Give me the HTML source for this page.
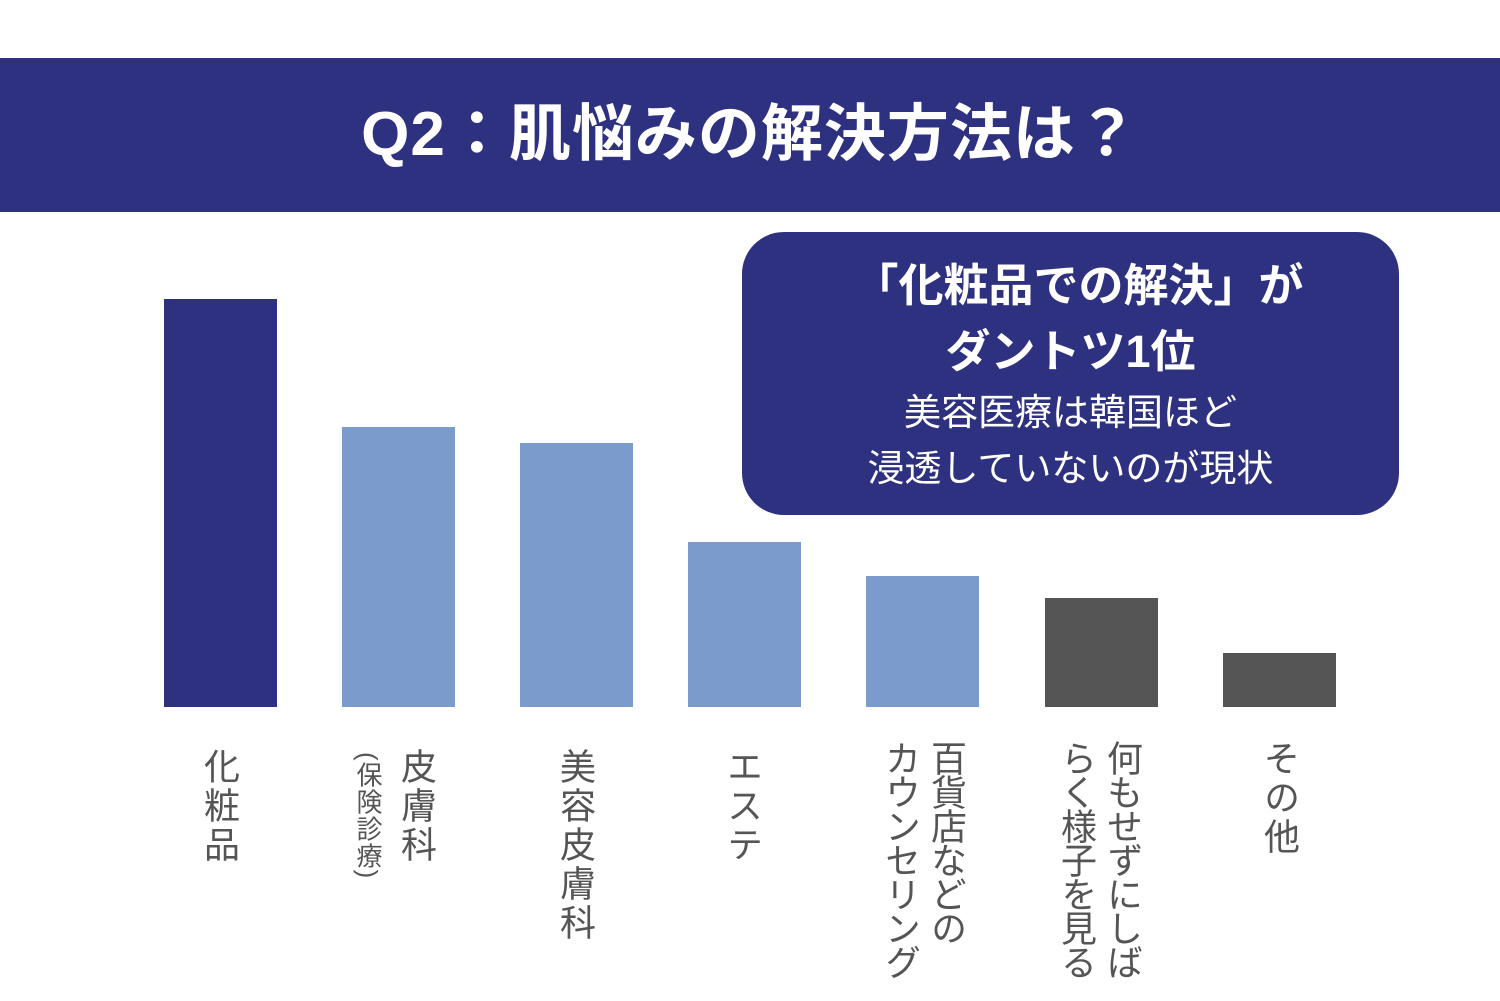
<!DOCTYPE html>
<html><head><meta charset="utf-8"><style>
body{margin:0;width:1500px;height:1001px;background:#fff;position:relative;overflow:hidden;font-family:"Liberation Sans","Noto Sans CJK JP",sans-serif}
.banner{position:absolute;left:0;top:58px;width:1500px;height:154px;background:#2e3180;color:#fff;font-weight:bold;font-size:62px;letter-spacing:1px;text-align:center;line-height:154px}
.bar{position:absolute;bottom:294px;width:113px}
.box{position:absolute;left:742px;top:232px;width:657px;height:283px;background:#2e3180;border-radius:42px;color:#fff;text-align:center}
.v{position:absolute;top:748px;writing-mode:vertical-rl;font-size:36px;color:#555;line-height:46px;letter-spacing:3px;white-space:nowrap}
</style></head><body>
<div class="banner">Q2：肌悩みの解決方法は？</div>
<div class="bar" style="left:164px;height:408px;background:#2e3180"></div>
<div class="bar" style="left:342px;height:280px;background:#7a9bcb"></div>
<div class="bar" style="left:520px;height:264px;background:#7a9bcb"></div>
<div class="bar" style="left:688px;height:165px;background:#7a9bcb"></div>
<div class="bar" style="left:866px;height:131px;background:#7a9bcb"></div>
<div class="bar" style="left:1045px;height:109px;background:#555"></div>
<div class="bar" style="left:1223px;height:54px;background:#555"></div>
<div class="box">
<div style="font-weight:bold;font-size:45px;position:absolute;left:0;right:0;top:24px;line-height:60px;padding-left:16px">「化粧品での解決」が</div>
<div style="font-weight:bold;font-size:45px;position:absolute;left:0;right:0;top:90px;line-height:60px;padding-left:0px">ダントツ1位</div>
<div style="font-size:37px;position:absolute;left:0;right:0;top:156px;line-height:50px">美容医療は韓国ほど</div>
<div style="font-size:37px;position:absolute;left:0;right:0;top:212px;line-height:50px">浸透していないのが現状</div>
</div>
<div class="v" style="left:196px">化粧品</div>
<div class="v" style="left:393px">皮膚科</div>
<div class="v" style="left:352px;font-size:26px;line-height:32px;top:752px;letter-spacing:1px">(保険診療)</div>
<div class="v" style="left:552px">美容皮膚科</div>
<div class="v" style="left:719px">エステ</div>
<div class="v" style="left:877px;top:740px;letter-spacing:-2px">百貨店などの<br>カウンセリング</div>
<div class="v" style="left:1053px;top:740px;letter-spacing:-2px">何もせずにしば<br>らく様子を見る</div>
<div class="v" style="left:1256px;top:740px">その他</div>
</body></html>
